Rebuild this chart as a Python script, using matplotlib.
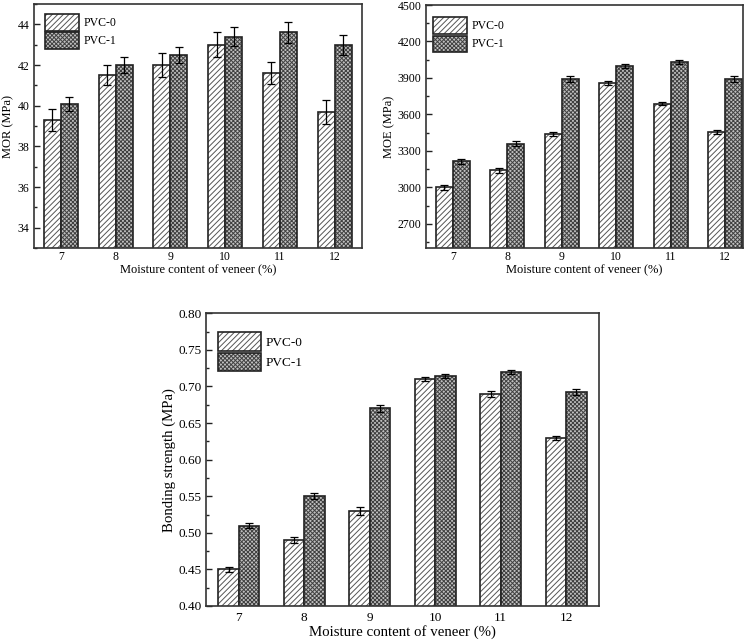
import numpy as np
import matplotlib
matplotlib.use("Agg")
import matplotlib.pyplot as plt
from matplotlib.ticker import MultipleLocator

plt.rcParams['font.family'] = ['Liberation Serif', 'DejaVu Serif']
plt.rcParams['hatch.linewidth'] = 0.7

# data
moisture = [7, 8, 9, 10, 11, 12]
series = ['PVC-0', 'PVC-1']

mor_pvc0 = [39.3, 41.5, 42.0, 43.0, 41.6, 39.7]
mor_pvc0_err = [0.55, 0.5, 0.6, 0.6, 0.55, 0.6]
mor_pvc1 = [40.1, 42.0, 42.5, 43.4, 43.6, 43.0]
mor_pvc1_err = [0.35, 0.4, 0.4, 0.45, 0.5, 0.5]

moe_pvc0 = [3000, 3140, 3440, 3860, 3690, 3455]
moe_pvc0_err = [22, 18, 20, 15, 15, 18]
moe_pvc1 = [3215, 3360, 3895, 4000, 4030, 3895]
moe_pvc1_err = [18, 18, 25, 15, 18, 25]

bond_pvc0 = [0.450, 0.490, 0.530, 0.710, 0.690, 0.630]
bond_pvc0_err = [0.003, 0.004, 0.005, 0.003, 0.004, 0.003]
bond_pvc1 = [0.510, 0.550, 0.670, 0.714, 0.720, 0.692]
bond_pvc1_err = [0.003, 0.004, 0.005, 0.003, 0.003, 0.004]

W, H = 756, 644
fig = plt.figure(figsize=(W / 100, H / 100), dpi=100)

def px_axes(left, top, right, bottom):
    return fig.add_axes([left / W, 1 - bottom / H, (right - left) / W, (bottom - top) / H])

styles = [
    dict(color='white', hatch='//////', edgecolor='#555555'),
    dict(color='#c0c0c0', hatch='xxxxxxxx', edgecolor='#404040'),
]
outline = '#222222'

def draw_panel(ax, v0, e0, v1, e1, ylab, ylim, major, minor, xlim, fs, lfs, legpos, hl, hh, capsize, xpad):
    x = np.array(moisture, dtype=float)
    w = 0.31
    handles = []
    for k, (vals, errs) in enumerate([(v0, e0), (v1, e1)]):
        pos = x - w / 2 if k == 0 else x + w / 2
        b1 = ax.bar(pos, vals, w, linewidth=0, **styles[k])
        b2 = ax.bar(pos, vals, w, fill=False, edgecolor=outline, linewidth=1.2)
        ax.errorbar(pos, vals, yerr=errs, fmt='none', ecolor='black',
                    elinewidth=0.9, capsize=capsize, capthick=0.9)
        handles.append((b1.patches[0], b2.patches[0]))
    ax.set_xlim(*xlim)
    ax.set_ylim(*ylim)
    ax.set_xticks(moisture)
    ax.set_xticklabels([str(m) for m in moisture])
    ax.yaxis.set_major_locator(MultipleLocator(major))
    ax.yaxis.set_minor_locator(MultipleLocator(minor))
    ax.tick_params(axis='y', which='both', direction='in', left=True, right=False, labelsize=fs, color='#222', pad=3)
    ax.tick_params(axis='y', which='major', length=4, width=1)
    ax.tick_params(axis='y', which='minor', length=2.5, width=1)
    ax.tick_params(axis='x', length=0, labelsize=fs, pad=xpad)
    for s in ax.spines.values():
        s.set_linewidth(1.2)
        s.set_color('#333')
    ax.set_xlabel('Moisture content of veneer (%)', fontsize=lfs, labelpad=1)
    ax.set_ylabel(ylab, fontsize=lfs, labelpad=2)
    ax.legend(handles, series, loc='upper left', bbox_to_anchor=legpos, frameon=False,
              fontsize=fs, handlelength=hl, handleheight=hh, borderpad=0, borderaxespad=0,
              labelspacing=0.15, handletextpad=0.35)

ax1 = px_axes(33.5, 4, 362, 248)
draw_panel(ax1, mor_pvc0, mor_pvc0_err, mor_pvc1, mor_pvc1_err, 'MOR (MPa)',
           (33, 45), 2, 1, (6.5, 12.5), 8.5, 9, (0.034, 0.958), 2.95, 1.75, 2.7, 2)
ax1.set_yticks([34, 36, 38, 40, 42, 44])

ax2 = px_axes(425.7, 5, 742.5, 248.3)
draw_panel(ax2, moe_pvc0, moe_pvc0_err, moe_pvc1, moe_pvc1_err, 'MOE (MPa)',
           (2500, 4500), 300, 150, (6.5, 12.32), 8.5, 9, (0.022, 0.949), 2.95, 1.75, 2.7, 2)
ax2.set_yticks([2700, 3000, 3300, 3600, 3900, 4200, 4500])

ax3 = px_axes(206, 313.3, 599, 606)
draw_panel(ax3, bond_pvc0, bond_pvc0_err, bond_pvc1, bond_pvc1_err, 'Bonding strength (MPa)',
           (0.40, 0.80), 0.05, 0.025, (6.5, 12.5), 9.5, 10.75, (0.031, 0.935), 3.25, 1.75, 3, 4)
ax3.yaxis.set_major_formatter(matplotlib.ticker.FormatStrFormatter('%.2f'))

fig.savefig('out.png', dpi=100)
